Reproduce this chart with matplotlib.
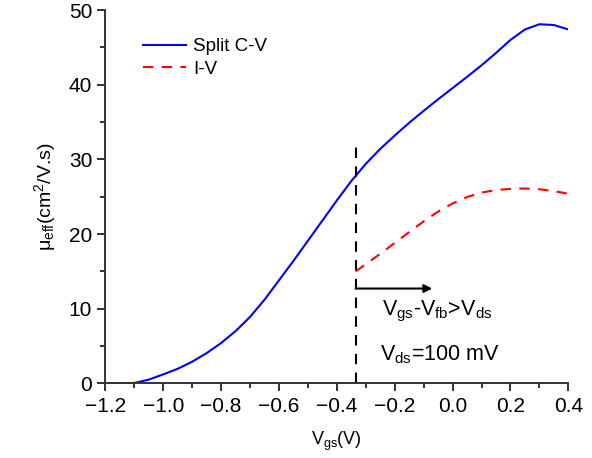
import matplotlib
matplotlib.use("Agg")
import matplotlib.pyplot as plt
from matplotlib.ticker import MultipleLocator

plt.rcParams['font.family'] = ['Liberation Sans', 'DejaVu Sans']
plt.rcParams['mathtext.fontset'] = 'custom'
plt.rcParams['mathtext.rm'] = 'Liberation Sans'
plt.rcParams['mathtext.it'] = 'Liberation Sans'

# Split C-V mobility
vgs_cv = [-1.2, -1.15, -1.1, -1.05, -1.0, -0.95, -0.9, -0.85, -0.8, -0.75, -0.7,
          -0.65, -0.6, -0.55, -0.5, -0.45, -0.4, -0.35, -0.3, -0.25, -0.2, -0.15,
          -0.1, -0.05, 0.0, 0.05, 0.1, 0.15, 0.2, 0.25, 0.3, 0.35, 0.4]
mu_cv = [0, 0, 0.05, 0.5, 1.2, 1.95, 2.9, 4.05, 5.4, 7.0, 8.9,
         11.2, 13.8, 16.4, 19.1, 21.8, 24.5, 27.1, 29.4, 31.4, 33.2, 34.9,
         36.5, 38.05, 39.55, 41.05, 42.6, 44.25, 46.0, 47.4, 48.1, 48.0, 47.4]

# I-V mobility
vgs_iv = [-0.335, -0.3, -0.25, -0.2, -0.15, -0.1, -0.05, 0.0, 0.05, 0.1, 0.15,
          0.2, 0.25, 0.3, 0.35, 0.4]
mu_iv = [15.0, 15.95, 17.35, 18.8, 20.25, 21.7, 23.0, 24.1, 24.95, 25.55, 25.9,
         26.05, 26.1, 26.0, 25.75, 25.4]

v_limit = -0.335

fig, ax = plt.subplots(figsize=(5.92, 4.58), dpi=100)
fig.subplots_adjust(left=0.178, right=0.96, top=0.978, bottom=0.163)

ax.plot(vgs_cv, mu_cv, color='#0000ff', lw=1.5, label='Split C-V')
ax.plot(vgs_iv, mu_iv, color='#ff0000', lw=1.5, ls=(0, (5, 4)), label='I-V')

ax.plot([v_limit, v_limit], [0, 31.6], color='black', lw=1.5, ls=(0, (5, 4)))
ax.annotate('', xy=(-0.07, 12.7), xytext=(v_limit, 12.7),
            arrowprops=dict(arrowstyle='-|>', color='black', lw=1.5,
                            mutation_scale=12, shrinkA=0, shrinkB=0))
ax.text(-0.245, 9.1, r'V$_\mathregular{gs}$-V$_\mathregular{fb}$>V$_\mathregular{ds}$',
        fontsize=15.5)
ax.text(-0.25, 3.1, r'V$_\mathregular{ds}$=100 mV', fontsize=15.5)

ax.set_xlim(-1.2, 0.4)
ax.set_ylim(0, 50)
ax.xaxis.set_major_locator(MultipleLocator(0.2))
ax.xaxis.set_minor_locator(MultipleLocator(0.1))
ax.yaxis.set_major_locator(MultipleLocator(10))
ax.yaxis.set_minor_locator(MultipleLocator(5))
ax.set_xticklabels([f'{v:.1f}'.replace('-', '\u2212') for v in ax.get_xticks()])

for s in ['top', 'right']:
    ax.spines[s].set_visible(False)
for s in ['left', 'bottom']:
    ax.spines[s].set_linewidth(1.4)
    ax.spines[s].set_color('#333333')
ax.tick_params(which='major', direction='out', length=6, width=1.4,
               labelsize=15, color='#333333')
ax.tick_params(which='minor', direction='out', length=3.5, width=1.4,
               color='#333333')

ax.set_xlabel(r'V$_\mathregular{gs}$(V)', fontsize=13, labelpad=10)
ax.set_ylabel(r'$\mathregular{\mu}_\mathregular{eff}$(cm$^\mathregular{2}$/V.s)',
              fontsize=14, labelpad=8)

ax.legend(loc='upper left', bbox_to_anchor=(0.045, 0.97), frameon=False,
          fontsize=13.5, handlelength=2.3, handletextpad=0.35, labelspacing=0.3)

fig.savefig('out.png', dpi=100)
